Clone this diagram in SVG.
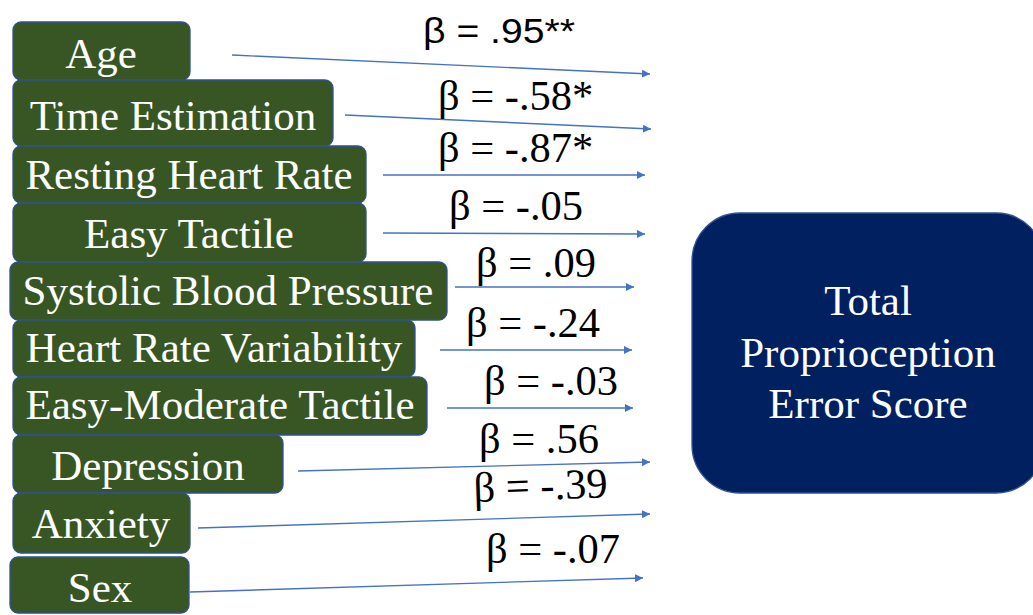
<svg xmlns="http://www.w3.org/2000/svg" width="1033" height="615" viewBox="0 0 1033 615">
<defs>
<marker id="ah" viewBox="0 0 10 10" refX="10" refY="5" markerWidth="8" markerHeight="8" markerUnits="userSpaceOnUse" orient="auto">
<path d="M0,0 L10,5 L0,10 z" fill="#4472C4"/>
</marker>
</defs>
<style>
.n{fill:#375623;stroke:#2F528F;stroke-width:1.3}
.nt{font-size:43px;fill:#fff;text-anchor:middle}
.c{stroke:#4472C4;stroke-width:1.4;fill:none;marker-end:url(#ah)}
.b{font-size:42.5px;fill:#000}
.bs{font-size:35px;fill:#000}
.t{fill:#002060;stroke:#2F528F;stroke-width:1.3}
.tt{font-size:43px;fill:#fff;text-anchor:middle}
</style>
<rect width="1033" height="615" fill="#fff"/>
<g id="connectors">
<line class="c" x1="232" y1="55" x2="650" y2="74"/>
<line class="c" x1="345" y1="115" x2="651" y2="129"/>
<line class="c" x1="383" y1="175" x2="645" y2="175"/>
<line class="c" x1="383" y1="233" x2="645" y2="234"/>
<line class="c" x1="455" y1="287" x2="634" y2="287"/>
<line class="c" x1="440" y1="350" x2="632" y2="350"/>
<line class="c" x1="447" y1="408" x2="633" y2="408"/>
<line class="c" x1="298" y1="471" x2="650" y2="462"/>
<line class="c" x1="198" y1="528" x2="650" y2="514"/>
<line class="c" x1="190" y1="592" x2="643" y2="578"/>
</g>
<g id="labels" font-family="'Liberation Serif', Tinos, 'Times New Roman', 'DejaVu Serif', serif">
<text class="bs" font-family="'Liberation Sans', Arial, sans-serif" x="423" y="43" textLength="152" lengthAdjust="spacingAndGlyphs">β = .95**</text>
<text class="b" x="438" y="110">β = -.58*</text>
<text class="b" x="438" y="162">β = -.87*</text>
<text class="b" x="449" y="220">β = -.05</text>
<text class="b" x="476" y="277">β = .09</text>
<text class="b" x="466" y="337">β = -.24</text>
<text class="b" x="484" y="395">β = -.03</text>
<text class="b" x="479" y="453">β = .56</text>
<text class="b" x="474" y="502" transform="rotate(-2 474 502)">β = -.39</text>
<text class="b" x="486" y="563">β = -.07</text>
</g>
<g id="nodes" font-family="'Liberation Serif', Tinos, 'Times New Roman', 'DejaVu Serif', serif">
<g id="age"><rect class="n" x="13" y="22" width="177" height="58" rx="8"/><text class="nt" x="101" y="68">Age</text></g>
<g id="time-estimation"><rect class="n" x="13" y="80" width="320" height="66" rx="8"/><text class="nt" x="173" y="130">Time Estimation</text></g>
<g id="resting-heart-rate"><rect class="n" x="13" y="146" width="353" height="57" rx="8"/><text class="nt" x="189" y="189">Resting Heart Rate</text></g>
<g id="easy-tactile"><rect class="n" x="13" y="203" width="353" height="59" rx="8"/><text class="nt" x="189" y="248">Easy Tactile</text></g>
<g id="systolic-blood-pressure"><rect class="n" x="10" y="262" width="437" height="58" rx="8"/><text class="nt" x="228" y="305">Systolic Blood Pressure</text></g>
<g id="heart-rate-variability"><rect class="n" x="13" y="320" width="402" height="57" rx="8"/><text class="nt" x="214" y="362">Heart Rate Variability</text></g>
<g id="easy-moderate-tactile"><rect class="n" x="13" y="377" width="414" height="58" rx="8"/><text class="nt" x="220" y="419">Easy-Moderate Tactile</text></g>
<g id="depression"><rect class="n" x="13" y="435" width="270" height="58" rx="8"/><text class="nt" x="148" y="480">Depression</text></g>
<g id="anxiety"><rect class="n" x="13" y="493" width="177" height="60" rx="8"/><text class="nt" x="101" y="538">Anxiety</text></g>
<g id="sex"><rect class="n" x="10" y="557" width="179" height="56" rx="8"/><text class="nt" x="100" y="602">Sex</text></g>
<g id="total-proprioception-error-score"><rect class="t" x="692" y="213" width="352" height="280" rx="48"/>
<text class="tt" x="868" y="315">Total</text>
<text class="tt" x="868" y="367">Proprioception</text>
<text class="tt" x="868" y="418">Error Score</text></g>
</g>
</svg>
